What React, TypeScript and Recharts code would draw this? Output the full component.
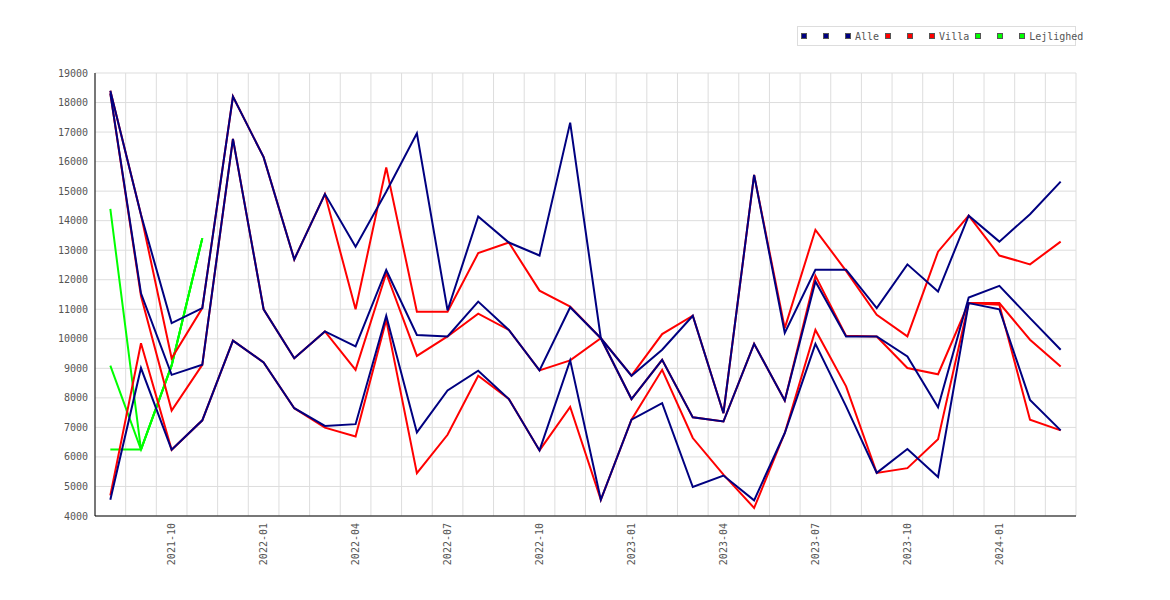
import React from "react";
import {
  LineChart,
  Line,
  XAxis,
  YAxis,
  CartesianGrid,
  Legend,
} from "recharts";

const FONT = "'DejaVu Sans Mono', monospace";
const NAVY = "#000080";
const RED = "#ff0000";
const GREEN = "#00ff00";

const months = [
  "2021-08", "2021-09", "2021-10", "2021-11", "2021-12",
  "2022-01", "2022-02", "2022-03", "2022-04", "2022-05", "2022-06",
  "2022-07", "2022-08", "2022-09", "2022-10", "2022-11", "2022-12",
  "2023-01", "2023-02", "2023-03", "2023-04", "2023-05", "2023-06",
  "2023-07", "2023-08", "2023-09", "2023-10", "2023-11", "2023-12",
  "2024-01", "2024-02", "2024-03",
];

const xTickLabels = [
  "2021-10", "2022-01", "2022-04", "2022-07", "2022-10",
  "2023-01", "2023-04", "2023-07", "2023-10", "2024-01",
];

const yTicks = [
  4000, 5000, 6000, 7000, 8000, 9000, 10000, 11000,
  12000, 13000, 14000, 15000, 16000, 17000, 18000, 19000,
];

// Alle (navy)
const alleMax = [
  18400, 14200, 10530, 11040, 18200, 16150, 12690, 14900, 13120, 14980, 16960,
  10960, 14140, 13260, 12820, 17320, 10020, 8750, 9630, 10780, 7480, 15550,
  10200, 12340, 12340, 11040, 12520, 11600, 14170, 13290, 14220, 15320,
];
const alleMid = [
  18310, 11540, 8780, 9120, 16770, 11000, 9340, 10250, 9740, 12330, 10130,
  10080, 11260, 10300, 8930, 11070, 10020, 7960, 9290, 7340, 7200, 9830,
  7910, 11940, 10080, 10080, 9400, 7680, 11400, 11790, 10700, 9630,
];
const alleMin = [
  4550, 9010, 6240, 7240, 9940, 9200, 7650, 7050, 7110, 10780, 6830,
  8250, 8920, 7960, 6220, 9270, 4550, 7260, 7820, 4980, 5370, 4530,
  6810, 9830, 7710, 5460, 6270, 5320, 11210, 11000, 7930, 6900,
];

// Villa (red)
const villaMax = [
  18400, 14200, 9340, 11040, 18200, 16150, 12690, 14900, 11000, 15800, 10920,
  10920, 12900, 13260, 11630, 11090, 10020, 8750, 10160, 10780, 7480, 15550,
  10360, 13690, 12300, 10810, 10080, 12950, 14170, 12820, 12520, 13290,
];
const villaMid = [
  18310, 11450, 7570, 9120, 16770, 11000, 9340, 10250, 8950, 12220, 9420,
  10080, 10850, 10300, 8930, 9270, 10020, 7960, 9290, 7340, 7200, 9830,
  7910, 12130, 10100, 10080, 9010, 8800, 11210, 11210, 9970, 9060,
];
const villaMin = [
  4700, 9850, 6240, 7240, 9940, 9200, 7650, 6990, 6690, 10640, 5450,
  6750, 8750, 7960, 6220, 7690, 4550, 7260, 8950, 6640, 5400, 4270,
  6810, 10300, 8390, 5460, 5620, 6600, 11210, 11150, 7260, 6900,
];

// Lejlighed (green), only the first months
const lejMax = [14400, 6250, 9100, 13400];
const lejMid = [9090, 6250, 9100, 13400];
const lejMin = [6250, 6250, 9100, 13400];

const data = months.map((month, i) => ({
  month,
  x: i + 0.5,
  alleMax: alleMax[i],
  alleMid: alleMid[i],
  alleMin: alleMin[i],
  villaMax: villaMax[i],
  villaMid: villaMid[i],
  villaMin: villaMin[i],
  lejMax: lejMax[i] ?? null,
  lejMid: lejMid[i] ?? null,
  lejMin: lejMin[i] ?? null,
}));

const xTicks = xTickLabels.map((m) => months.indexOf(m) + 0.5);
const gridTicks = months.map((_, i) => i).concat(months.length);

const legendItems = [
  { color: NAVY, label: "" },
  { color: NAVY, label: "" },
  { color: NAVY, label: "Alle" },
  { color: RED, label: "" },
  { color: RED, label: "" },
  { color: RED, label: "Villa" },
  { color: GREEN, label: "" },
  { color: GREEN, label: "" },
  { color: GREEN, label: "Lejlighed" },
];

const renderLegend = () => (
  <div
    style={{
      display: "flex",
      alignItems: "center",
      width: 279,
      height: 20,
      boxSizing: "border-box",
      border: "1px solid #ddd",
      paddingLeft: 3,
      fontFamily: FONT,
      fontSize: 10,
      color: "#555",
      whiteSpace: "nowrap",
    }}
  >
    {legendItems.map((it, i) => (
      <span
        key={i}
        style={{ display: "flex", alignItems: "center", marginRight: it.label ? 6 : 16 }}
      >
        <span
          style={{
            display: "inline-block",
            width: 4,
            height: 4,
            border: "1px solid #555",
            background: it.color,
          }}
        />
        {it.label && <span style={{ marginLeft: 4 }}>{it.label}</span>}
      </span>
    ))}
  </div>
);

const MonthTick = (props: any) => {
  const { x, y, payload } = props;
  return (
    <text
      x={x}
      y={y}
      dy="0.35em"
      transform={`rotate(-90, ${x}, ${y})`}
      textAnchor="end"
      fontFamily={FONT}
      fontSize={10}
      fill="#555"
    >
      {months[Math.floor(payload.value)]}
    </text>
  );
};

const series = [
  { key: "lejMax", color: GREEN },
  { key: "lejMid", color: GREEN },
  { key: "lejMin", color: GREEN },
  { key: "villaMax", color: RED },
  { key: "villaMid", color: RED },
  { key: "villaMin", color: RED },
  { key: "alleMax", color: NAVY },
  { key: "alleMid", color: NAVY },
  { key: "alleMin", color: NAVY },
];

export default function App() {
  return (
    <LineChart
      width={1154}
      height={584}
      data={data}
      margin={{ top: 65, right: 86, bottom: 46, left: 27 }}
    >
      <XAxis
        xAxisId="grid"
        type="number"
        dataKey="x"
        domain={[0, months.length]}
        ticks={gridTicks}
        hide
      />
      <CartesianGrid xAxisId="grid" stroke="#dddddd" />
      <XAxis
        type="number"
        dataKey="x"
        domain={[0, months.length]}
        ticks={xTicks}
        interval={0}
        height={30}
        stroke="#000"
        tickLine={false}
        tickSize={0}
        tickMargin={7}
        axisLine={{ stroke: "#000" }}
        tick={<MonthTick />}
      />
      <YAxis
        type="number"
        domain={[4000, 19000]}
        ticks={yTicks}
        interval={0}
        width={60}
        stroke="#000"
        tickLine={false}
        tickSize={0}
        tickMargin={7}
        axisLine={{ stroke: "#000" }}
        tick={{ fontFamily: FONT, fontSize: 10, fill: "#555" }}
      />
      <Legend
        layout="vertical"
        align="center"
        verticalAlign="middle"
        content={renderLegend}
        wrapperStyle={{ top: 18, left: 789, width: "auto", height: "auto" }}
      />
      {series.map((s) => (
        <Line
          key={s.key}
          type="linear"
          dataKey={s.key}
          stroke={s.color}
          strokeWidth={2}
          dot={false}
          activeDot={false}
          connectNulls={false}
          isAnimationActive={false}
        />
      ))}
    </LineChart>
  );
}
